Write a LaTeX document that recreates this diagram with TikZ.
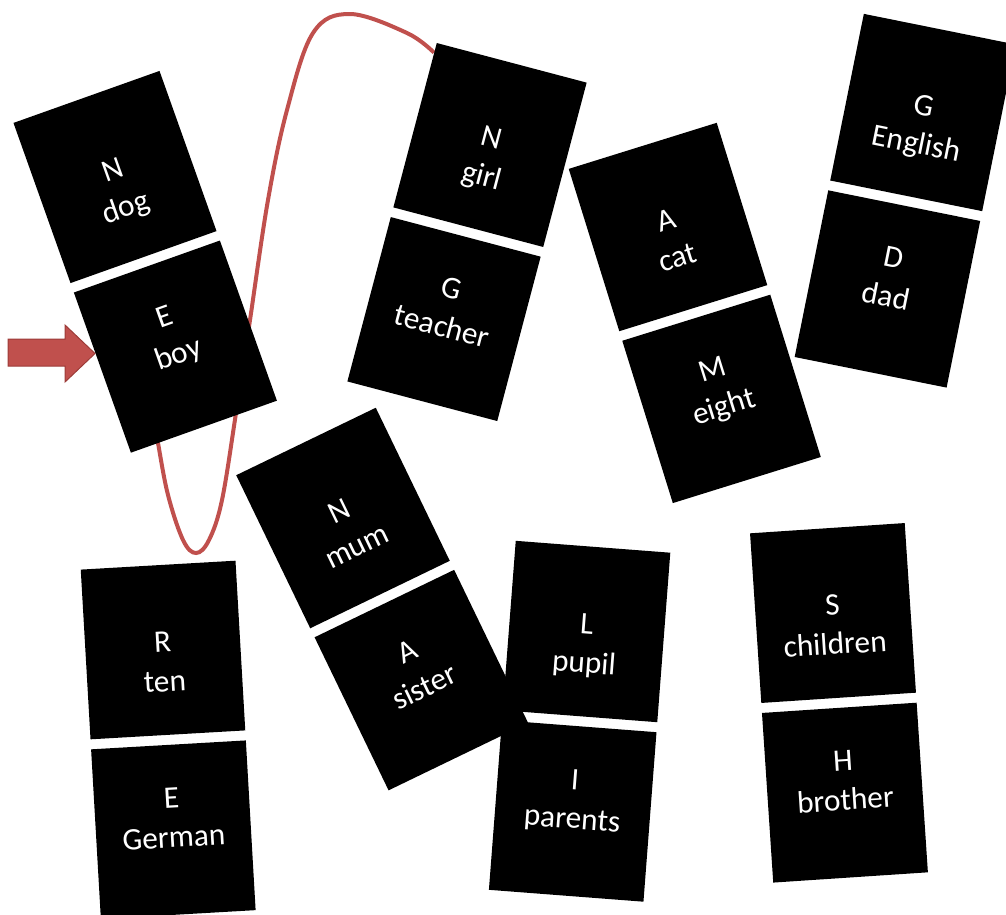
\documentclass[tikz,border=0pt]{standalone}
\usepackage{fontspec}
\setmainfont{Carlito}
\usepackage{tikz}
\usetikzlibrary{calc,backgrounds}
\definecolor{loopred}{HTML}{C0504D}
\definecolor{loopedge}{HTML}{9C3B38}

\begin{document}
\begin{tikzpicture}[
  x=0.75pt,y=-0.75pt,
  tile/.style={fill=black,text=white,align=center,inner sep=0pt,
    font=\fontsize{23.5pt}{29.25pt}\selectfont,
    minimum width=116.25pt,minimum height=127.5pt},
  upper/.style={tile,text height=69.75pt,text depth=7.5pt},
  lower/.style={tile,anchor=north,text height=33.75pt,text depth=7.5pt},
  loop/.style={draw=loopred,line width=3pt}
]
\useasboundingbox (0,0) rectangle (1006,914);

% top row of dominoes
\node[upper,rotate=19.6] (dog) at (115,177) {N\\dog};
\node[lower,rotate=19.6] (boy) at ($(dog.south)!-7.125pt!(dog.north)$) {E\\boy};
\node[upper,rotate=-14.8] (girl) at (490,145) {N\\girl};
\node[lower,rotate=-14.8] (teacher) at ($(girl.south)!-7.125pt!(girl.north)$) {G\\teacher};
\node[upper,rotate=17.3] (cat) at (668,227) {A\\cat};
\node[lower,rotate=17.3] (eight) at ($(cat.south)!-7.125pt!(cat.north)$) {M\\eight};
\node[upper,rotate=-11.4] (english) at (923,112.5) {G\\English};
\node[lower,rotate=-11.4] (dad) at ($(english.south)!-7.125pt!(english.north)$) {D\\dad};

% bottom row of dominoes
\node[upper,rotate=3.3] (ten) at (163,650) {R\\ten};
\node[lower,rotate=3.3] (german) at ($(ten.south)!-7.125pt!(ten.north)$) {E\\German};
\node[upper,rotate=-4.4] (pupil) at (586.5,631.5) {L\\pupil};
\node[lower,rotate=-4.4] (parents) at ($(pupil.south)!-7.125pt!(pupil.north)$) {I\\parents};
\node[upper,rotate=25.8] (mum) at (343,518) {N\\mum};
\node[lower,rotate=25.8] (sister) at ($(mum.south)!-7.125pt!(mum.north)$) {A\\sister};
\node[upper,rotate=3.8] (children) at (833,613) {S\\children};
\node[lower,rotate=3.8] (brother) at ($(children.south)!-7.125pt!(children.north)$) {H\\brother};

% red loop behind the tiles
\begin{scope}[on background layer]
\draw[loop] plot[smooth,tension=0.6] coordinates {($(girl.north west)!0.06!(girl.south west)$)
  (407,33) (350,14) (313,33) (287,110) (268,200) (250,320) (236,413) (222,500)
  (209,540) (196,553) (183,540) (168,495) (158,443) (155,425) (boy.center)};
\end{scope}

% pointer
\fill[loopred,draw=loopedge,line width=0.75pt] (8,339) -- (65,339) -- (65,325)
  -- (95,353.5) -- (65,382) -- (65,366) -- (8,366) -- cycle;
\end{tikzpicture}
\end{document}
